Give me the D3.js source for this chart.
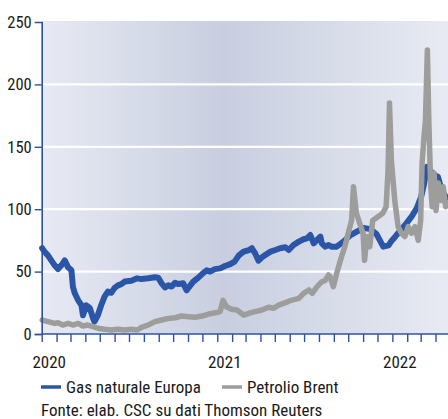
<!DOCTYPE html>
<html><head><meta charset="utf-8">
<script src="https://cdn.jsdelivr.net/npm/d3@7"></script>
<style>
html,body{margin:0;padding:0;background:#fff;}
svg{display:block;}
text{font-family:"Liberation Sans Narrow","Roboto Condensed",Roboto,"DejaVu Sans Condensed",sans-serif;fill:#1a1a1a;}
</style></head>
<body><svg id="c" width="448" height="419"></svg>
<script>
// ---- data ----
const seriesNames = ["Gas naturale Europa", "Petrolio Brent"];
const yTicks = [0, 50, 100, 150, 200, 250];
const yearLabels = ["2020", "2021", "2022"];
const sourceText = "Fonte: elab. CSC su dati Thomson Reuters";

const gasData = [
["2020-01-02",68.7],["2020-01-07",66],["2020-01-14",63],["2020-01-21",59],["2020-01-28",55],
["2020-02-04",52],["2020-02-11",55],["2020-02-18",59],["2020-02-25",53.4],["2020-03-03",51],
["2020-03-06",38],["2020-03-10",32.6],["2020-03-17",27],["2020-03-24",23],["2020-03-27",15],
["2020-04-03",23],["2020-04-10",21],["2020-04-17",12.8],["2020-04-20",10],["2020-04-27",15],
["2020-05-04",23],["2020-05-11",30],["2020-05-18",34],["2020-05-25",33],["2020-06-01",37],
["2020-06-08",39],["2020-06-15",40],["2020-06-22",42],["2020-07-06",42.7],["2020-07-18",44.6],
["2020-07-27",44],["2020-08-10",44.6],["2020-08-24",45.4],["2020-08-31",45],["2020-09-07",40.6],
["2020-09-14",37.4],["2020-09-21",39],["2020-09-28",38],["2020-10-05",41],["2020-10-12",40],
["2020-10-22",40.6],["2020-10-29",35],["2020-11-05",38.5],["2020-11-12",42],["2020-11-23",45.4],
["2020-12-03",49],["2020-12-10",51],["2020-12-17",50],["2020-12-27",52],["2021-01-07",52.6],
["2021-01-17",54.5],["2021-01-28",56],["2021-02-06",58],["2021-02-15",63],["2021-02-25",66],
["2021-03-08",67.3],["2021-03-14",68.7],["2021-03-21",64.6],["2021-03-28",58.7],["2021-04-04",61.4],
["2021-04-11",63.3],["2021-04-22",66],["2021-05-02",67.3],["2021-05-12",68.7],["2021-05-23",69.5],
["2021-05-30",67.3],["2021-06-09",71.3],["2021-06-20",74],["2021-06-30",75.9],["2021-07-07",76.6],
["2021-07-14",79.3],["2021-07-21",72.7],["2021-07-28",75.3],["2021-08-04",78],["2021-08-07",72.7],
["2021-08-14",70],["2021-08-21",71.3],["2021-08-27",70],["2021-09-07",70],["2021-09-21",74],
["2021-10-05",79],["2021-10-19",82],["2021-11-02",85],["2021-11-16",84],["2021-11-29",80],
["2021-12-06",75],["2021-12-13",70],["2021-12-24",71],["2021-12-31",75],["2022-01-07",78],
["2022-01-20",84],["2022-01-31",89],["2022-02-10",94],["2022-02-21",101],["2022-03-02",110],
["2022-03-08",120],["2022-03-14",134],["2022-03-21",131],["2022-03-31",127],["2022-04-06",126],
["2022-04-14",115],["2022-04-24",109]
];

const brentData = [
["2020-01-02",11.2],["2020-01-14",9.9],["2020-01-28",8.5],["2020-02-04",9],["2020-02-14",7.2],
["2020-02-25",8.5],["2020-03-06",7.2],["2020-03-17",8.5],["2020-03-27",6.4],["2020-04-06",7.2],
["2020-04-17",5.9],["2020-04-27",4.6],["2020-05-11",3.8],["2020-05-25",3.2],["2020-06-08",3.8],
["2020-06-22",3.2],["2020-07-06",3.8],["2020-07-18",3.2],["2020-07-27",5.3],["2020-08-10",7.2],
["2020-08-24",9.9],["2020-09-07",11.2],["2020-09-21",12.5],["2020-10-05",13],["2020-10-19",14.4],
["2020-11-02",13.9],["2020-11-16",13.4],["2020-11-30",14.4],["2020-12-14",16],["2020-12-28",17],
["2021-01-07",17.9],["2021-01-13",27],["2021-01-20",21.9],["2021-01-31",19.8],["2021-02-11",19.2],
["2021-02-25",15.2],["2021-03-08",16.6],["2021-03-21",17.9],["2021-04-04",19.2],["2021-04-18",21.4],
["2021-04-28",20.6],["2021-05-09",23.2],["2021-05-23",25.1],["2021-06-06",27.2],["2021-06-20",28.6],
["2021-06-30",32.6],["2021-07-11",35.3],["2021-07-18",32.6],["2021-07-28",37.9],["2021-08-07",41.9],
["2021-08-14",43],["2021-08-21",47.3],["2021-08-24",46],["2021-08-31",38],["2021-09-07",48.6],
["2021-09-17",62],["2021-09-24",70],["2021-10-01",80.7],["2021-10-08",91],["2021-10-12",118],
["2021-10-18",96.7],["2021-10-25",88.7],["2021-11-01",80.7],["2021-11-04",59],["2021-11-09",78],
["2021-11-15",70],["2021-11-21",91],["2021-12-02",94],["2021-12-12",96.7],["2021-12-19",102],
["2021-12-23",131],["2021-12-26",185],["2021-12-30",139],["2022-01-06",107],["2022-01-13",86],
["2022-01-20",80.7],["2022-01-27",78],["2022-02-03",86],["2022-02-10",80.7],["2022-02-17",86],
["2022-02-24",75],["2022-03-01",91],["2022-03-04",137],["2022-03-08",158],["2022-03-11",171],
["2022-03-15",227.6],["2022-03-18",171],["2022-03-22",118],["2022-03-25",102],["2022-03-29",129],
["2022-04-02",99],["2022-04-07",121],["2022-04-12",107],["2022-04-17",118],["2022-04-22",102],
["2022-04-26",105]
];

// ---- drawing ----
const parse = d3.timeParse("%Y-%m-%d");
const svg = d3.select("#c");
const L = 41.7, R = 448, T = 22, B = 334;
const x = d3.scaleTime().domain([parse("2020-01-01"), parse("2022-04-27")]).range([L, R]);
const y = d3.scaleLinear().domain([0, 250]).range([B, T]);

const defs = svg.append("defs");
const grad = defs.append("linearGradient").attr("id","bg").attr("x1","0").attr("x2","1").attr("y1","0").attr("y2","0");
grad.append("stop").attr("offset","0%").attr("stop-color","#e7eaf3");
grad.append("stop").attr("offset","45%").attr("stop-color","#c8cee0");
grad.append("stop").attr("offset","100%").attr("stop-color","#e8ebf3");

svg.append("rect").attr("x", L).attr("y", y(250)-1).attr("width", R-L).attr("height", B-(y(250)-1)).attr("fill","url(#bg)");

// gridlines
svg.append("g").selectAll("line").data(yTicks.filter(v=>v>0 && v<250)).join("line")
  .attr("x1", L).attr("x2", R).attr("y1", d=>y(d)).attr("y2", d=>y(d))
  .attr("stroke","#fff").attr("stroke-width",2.2);

// lines
const line = d3.line().x(d=>x(parse(d[0]))).y(d=>y(d[1])).curve(d3.curveLinear);
svg.append("path").datum(gasData).attr("d", line).attr("fill","none")
  .attr("stroke","#2b55a7").attr("stroke-width",6).attr("stroke-linejoin","round").attr("stroke-linecap","round");
svg.append("path").datum(brentData).attr("d", line).attr("fill","none")
  .attr("stroke","#9d9d9b").attr("stroke-width",5.5).attr("stroke-linejoin","round").attr("stroke-linecap","round");

// y axis
const axisColor = "#2d52a3";
const yAxis = d3.axisLeft(y).tickValues(yTicks).tickSize(7).tickPadding(3).tickFormat(d3.format("d"));
const gy = svg.append("g").attr("transform",`translate(${L},0)`).call(yAxis);
gy.select(".domain").attr("stroke", axisColor).attr("stroke-width",1.6);
gy.selectAll(".tick line").attr("stroke", axisColor).attr("stroke-width",1.4)
  .attr("opacity", d=>d===250?0:1);
gy.selectAll(".tick text").attr("font-size",16.5).attr("fill","#1a1a1a")
  .attr("font-family",'"Liberation Sans Narrow","Roboto Condensed",Roboto,"DejaVu Sans Condensed",sans-serif');

// x axis
const xAxis = d3.axisBottom(x).ticks(d3.timeMonth.every(1)).tickSize(8).tickFormat("");
const gx = svg.append("g").attr("transform",`translate(0,${B})`).call(xAxis);
gx.select(".domain").attr("stroke", axisColor).attr("stroke-width",1.6).attr("d", `M${L},0H${R}`);
gx.selectAll(".tick line").attr("stroke", axisColor).attr("stroke-width",1.4);

svg.append("g").selectAll("text").data(yearLabels).join("text")
  .attr("x", d=>x(parse(d+"-01-01"))+7.5).attr("y", 368).attr("text-anchor","middle")
  .attr("font-size",17).text(d=>d);

// legend
const colors = ["#2b55a7", "#9d9d9b"];
const legX = [41, 222];
const lg = svg.append("g");
seriesNames.forEach((n,i)=>{
  lg.append("line").attr("x1",legX[i]).attr("x2",legX[i]+20).attr("y1",387).attr("y2",387)
    .attr("stroke",colors[i]).attr("stroke-width",3.5);
  lg.append("text").attr("x",legX[i]+25).attr("y",393).attr("font-size",17).text(n);
});

svg.append("text").attr("x",41).attr("y",416).attr("font-size",17).text(sourceText);
</script></body></html>
